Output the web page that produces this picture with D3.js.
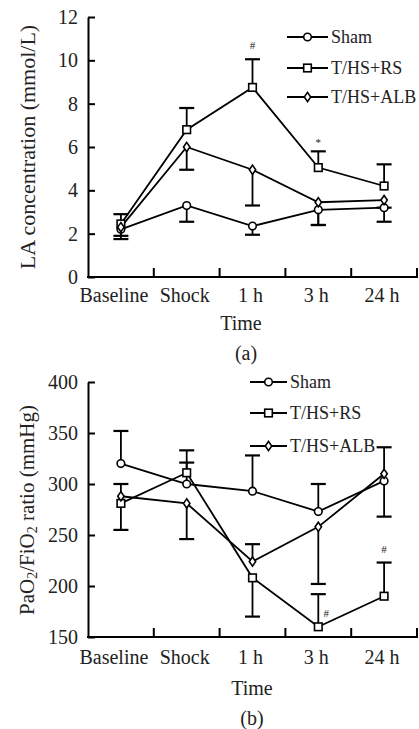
<!DOCTYPE html>
<html>
<head>
<meta charset="utf-8">
<script src="https://cdn.jsdelivr.net/npm/d3@7"></script>
<style>
  html, body { margin: 0; padding: 0; background: #fff; }
  svg { display: block; }
  svg text { font-family: "Liberation Serif", "Times New Roman", Times, "DejaVu Serif", serif !important; fill: #222; }
</style>
</head>
<body>
<svg id="chart" width="419" height="729"></svg>
<script>
// ---------- data ----------
const categories = ["Baseline", "Shock", "1 h", "3 h", "24 h"];
const seriesNames = ["Sham", "T/HS+RS", "T/HS+ALB"];
const seriesMarkers = ["circle", "square", "diamond"];

// Panel (a): LA concentration (mmol/L); signed error (+ up, - down)
const laTicks = [0, 2, 4, 6, 8, 10, 12];
const shamLA = [2.2, 3.3, 2.35, 3.1, 3.2];
const shamLAErr = [-0.45, -0.75, -0.4, -0.7, -0.65];
const rsLA = [2.45, 6.8, 8.75, 5.05, 4.2];
const rsLAErr = [0.45, 1.0, 1.3, 0.75, 1.0];
const albLA = [2.3, 6.0, 4.95, 3.45, 3.55];
const albLAErr = [-0.4, -1.05, -1.65, -1.05, -0.35];
const laMarks = [{ s: 1, i: 2, t: "#" }, { s: 1, i: 3, t: "*" }];

// Panel (b): PaO2/FiO2 ratio (mmHg)
const pfTicks = [150, 200, 250, 300, 350, 400];
const shamPF = [320, 300, 293, 273, 303];
const shamPFErr = [32, 21, 35, 27, -35];
const rsPF = [281, 311, 208, 160, 190];
const rsPFErr = [-26, 22, -38, 32, 33];
const albPF = [288, 281, 224, 258, 310];
const albPFErr = [12, -35, 17, -56, 26];
const pfMarks = [{ s: 1, i: 3, t: "#", right: true }, { s: 1, i: 4, t: "#" }];

// ---------- drawing ----------
const FONT = '"Liberation Serif", "Times New Roman", Times, "DejaVu Serif", serif';
const svg = d3.select("#chart");
const X0 = 88, X1 = 417;
const x = d3.scaleBand().domain(categories).range([X0, X1]).padding(0);
const cx = c => x(c) + x.bandwidth() / 2;

function marker(g, type, px, py) {
  const st = s => s.attr("fill", "#fff").attr("stroke", "#000").attr("stroke-width", 1.6);
  if (type === "circle") {
    g.append("circle").attr("cx", px).attr("cy", py).attr("r", 3.8).call(st);
  } else if (type === "square") {
    g.append("rect").attr("x", px - 3.8).attr("y", py - 3.8).attr("width", 7.6).attr("height", 7.6).call(st);
  } else {
    g.append("path").attr("d", `M${px},${py - 4.6}L${px + 3.2},${py}L${px},${py + 4.6}L${px - 3.2},${py}Z`).call(st);
  }
}

function panel(cfg) {
  const y = d3.scaleLinear().domain(cfg.domain).range([cfg.yBottom, cfg.yTop]);
  const g = svg.append("g").attr("font-family", FONT);

  // y axis
  const ya = g.append("g").attr("transform", `translate(${X0},0)`)
    .call(d3.axisLeft(y).tickValues(cfg.ticks).tickSizeInner(-7).tickSizeOuter(0).tickPadding(16));
  ya.attr("font-family", FONT);
  ya.select(".domain").attr("stroke", "#000").attr("stroke-width", 2);
  ya.selectAll(".tick line").attr("stroke", "#000").attr("stroke-width", 2);
  ya.selectAll(".tick text").attr("font-size", 20).attr("fill", "#222").attr("x", -10);

  // x axis (ticks at band boundaries, inward)
  g.append("line").attr("x1", X0 - 1).attr("x2", X1 + 1).attr("y1", cfg.yBottom).attr("y2", cfg.yBottom)
    .attr("stroke", "#000").attr("stroke-width", 2);
  categories.forEach(c => {
    const bx = x(c) + x.bandwidth();
    g.append("line").attr("x1", bx).attr("x2", bx).attr("y1", cfg.yBottom).attr("y2", cfg.yBottom - 9)
      .attr("stroke", "#000").attr("stroke-width", 2);
    g.append("text").attr("x", cx(c) - (c === "Baseline" ? 7 : 2)).attr("y", cfg.yBottom + cfg.labelGap)
      .attr("text-anchor", "middle").attr("dominant-baseline", "central").attr("font-size", 20).text(c);
  });

  // axis title x & panel label
  g.append("text").attr("x", cfg.timeX).attr("y", cfg.timeY).attr("text-anchor", "middle")
    .attr("dominant-baseline", "central").attr("font-size", 20).text("Time");
  g.append("text").attr("x", cfg.labX).attr("y", cfg.labY).attr("text-anchor", "middle")
    .attr("dominant-baseline", "central").attr("font-size", 20).text(cfg.label);

  // y title
  const yt = g.append("text").attr("transform", `translate(${cfg.ytX},${cfg.ytY}) rotate(-90)`)
    .attr("text-anchor", "middle").attr("dominant-baseline", "central").attr("font-size", cfg.ytSize);
  cfg.ytitle(yt);

  const line = d3.line().x((d, i) => cx(categories[i])).y(d => y(d));

  // lines
  cfg.series.forEach(s => {
    g.append("path").attr("d", line(s.v)).attr("fill", "none").attr("stroke", "#000").attr("stroke-width", 1.8);
  });
  // error bars
  cfg.series.forEach(s => {
    s.v.forEach((v, i) => {
      const px = cx(categories[i]);
      const ye = y(v + s.e[i]);
      g.append("line").attr("x1", px).attr("x2", px).attr("y1", y(v)).attr("y2", ye)
        .attr("stroke", "#000").attr("stroke-width", 1.8);
      g.append("line").attr("x1", px - 7.5).attr("x2", px + 7.5).attr("y1", ye).attr("y2", ye)
        .attr("stroke", "#000").attr("stroke-width", 2.2);
    });
  });
  // markers
  cfg.series.forEach((s, k) => {
    s.v.forEach((v, i) => marker(g, seriesMarkers[k], cx(categories[i]), y(v)));
  });
  // significance marks
  cfg.marks.forEach(m => {
    const s = cfg.series[m.s];
    const v = s.v[m.i], e = s.e[m.i];
    const top = m.right ? y(v) : y(Math.max(v, v + e));
    const px = cx(categories[m.i]) + (m.right ? 8 : 0);
    g.append("text").attr("x", px).attr("y", top - (m.t === "*" ? 9 : 14))
      .attr("text-anchor", "middle").attr("dominant-baseline", "central")
      .attr("font-size", 11).attr("fill", "#777").text(m.t);
  });

  // legend
  seriesNames.forEach((n, k) => {
    const ly = cfg.legY[k];
    g.append("line").attr("x1", cfg.legX).attr("x2", cfg.legX + cfg.legW).attr("y1", ly).attr("y2", ly)
      .attr("stroke", "#000").attr("stroke-width", 1.8);
    marker(g, seriesMarkers[k], cfg.legX + cfg.legW / 2, ly);
    g.append("text").attr("x", cfg.legX + cfg.legW + 3).attr("y", ly).attr("dominant-baseline", "central")
      .attr("font-size", 18).text(n);
  });
}

panel({
  domain: [0, 12], ticks: laTicks, yTop: 17, yBottom: 277, labelGap: 18,
  timeX: 241, timeY: 323, labX: 246, labY: 353, label: "(a)",
  ytX: 27, ytY: 147, ytSize: 22,
  ytitle: t => t.text("LA concentration (mmol/L)"),
  series: [{ v: shamLA, e: shamLAErr }, { v: rsLA, e: rsLAErr }, { v: albLA, e: albLAErr }],
  marks: laMarks,
  legX: 287, legW: 41, legY: [37, 68, 97]
});

panel({
  domain: [150, 400], ticks: pfTicks, yTop: 382, yBottom: 637, labelGap: 20,
  timeX: 252, timeY: 688, labX: 252, labY: 718, label: "(b)",
  ytX: 27, ytY: 510, ytSize: 21,
  ytitle: t => {
    t.append("tspan").text("PaO");
    t.append("tspan").attr("font-size", 14).attr("dy", 5).text("2");
    t.append("tspan").attr("dy", -5).text("/FiO");
    t.append("tspan").attr("font-size", 14).attr("dy", 5).text("2");
    t.append("tspan").attr("dy", -5).text(" ratio (mmHg)");
  },
  series: [{ v: shamPF, e: shamPFErr }, { v: rsPF, e: rsPFErr }, { v: albPF, e: albPFErr }],
  marks: pfMarks,
  legX: 250, legW: 37, legY: [382, 413, 446]
});
</script>
</body>
</html>
